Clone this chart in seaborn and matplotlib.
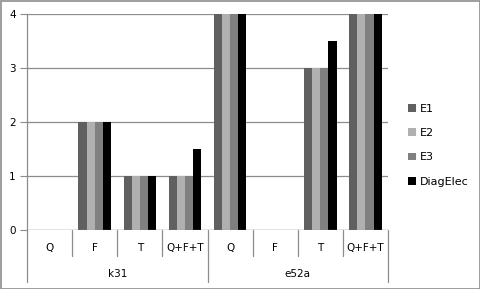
import matplotlib
matplotlib.use("Agg")
import matplotlib.pyplot as plt
import matplotlib.transforms as mtransforms
from matplotlib.patches import Rectangle
import seaborn as sns
import pandas as pd

groups = ["k31", "e52a"]
subcats = ["Q", "F", "T", "Q+F+T"]
series = ["E1", "E2", "E3", "DiagElec"]
E1 = [0, 2, 1, 1, 4, 0, 3, 4]
E2 = [0, 2, 1, 1, 4, 0, 3, 4]
E3 = [0, 2, 1, 1, 4, 0, 3, 4]
DiagElec = [0, 2, 1, 1.5, 4, 0, 3.5, 4]
colors = ["#606060", "#b0b0b0", "#808080", "#000000"]

cats = [f"{g}|{s}" for g in groups for s in subcats]
rows = []
for name, vals in zip(series, [E1, E2, E3, DiagElec]):
    for c, v in zip(cats, vals):
        rows.append({"cat": c, "series": name, "value": v})
df = pd.DataFrame(rows)

sns.set_style("white")
plt.rcParams["font.family"] = ["DejaVu Sans"]
plt.rcParams["text.color"] = "black"
plt.rcParams["ytick.labelcolor"] = "black"

fig = plt.figure(figsize=(4.81, 2.89), dpi=100)
ax = fig.add_axes([27/481, 1-230/289, (388-27)/481, (230-14)/289])
sns.barplot(data=df, x="cat", y="value", hue="series", order=cats,
            hue_order=series, palette=colors, width=0.72, ax=ax,
            saturation=1, legend=True, linewidth=0)

ax.set_xlim(-0.5, len(cats)-0.5)
ax.set_ylim(0, 4)
ax.set_yticks([0, 1, 2, 3, 4])
ax.set_yticklabels(["0", "1", "2", "3", "4"], fontsize=7.5, color="black")
ax.yaxis.grid(True, color="#8c8c8c", linewidth=0.9)
ax.set_axisbelow(True)
for s in ["top", "right", "bottom"]:
    ax.spines[s].set_visible(False)
ax.spines["left"].set_color("#8c8c8c")
ax.spines["left"].set_linewidth(0.9)
ax.tick_params(axis="y", length=5, color="#8c8c8c", pad=3, left=True)
ax.set_xticks([])
ax.set_xlabel("")
ax.set_ylabel("")

ax.axhline(0, color="#8c8c8c", linewidth=0.9)

trans = mtransforms.blended_transform_factory(ax.transData, fig.transFigure)
def fy(py):
    return 1 - py/289
lc = "#8c8c8c"
for i in range(len(cats)+1):
    x = i - 0.5
    bottom = 282 if i % 4 == 0 else 256
    ax.plot([x, x], [fy(230), fy(bottom)], transform=trans, color=lc,
            linewidth=0.9, clip_on=False)
for i, c in enumerate(cats):
    ax.text(i, fy(248), c.split("|")[1], transform=trans, ha="center",
            va="center", fontsize=7.5, color="black")
for gi, g in enumerate(groups):
    ax.text(gi*4 + 1.5, fy(274), g, transform=trans, ha="center",
            va="center", fontsize=7.5, color="black")

leg = ax.legend(loc="upper left", bbox_to_anchor=(408/481, 1-104/289),
                bbox_transform=fig.transFigure, frameon=False,
                fontsize=8, handlelength=0.7, handleheight=0.7,
                handletextpad=0.4, labelspacing=1.28, borderaxespad=0,
                borderpad=0)
for t in leg.get_texts():
    t.set_color("black")

fig.patches.append(Rectangle((0.5/481, 0.5/289), 1-1/481, 1-1/289,
                             transform=fig.transFigure, fill=False,
                             edgecolor="#8c8c8c", linewidth=1.2))

fig.savefig("out.png", dpi=100)
